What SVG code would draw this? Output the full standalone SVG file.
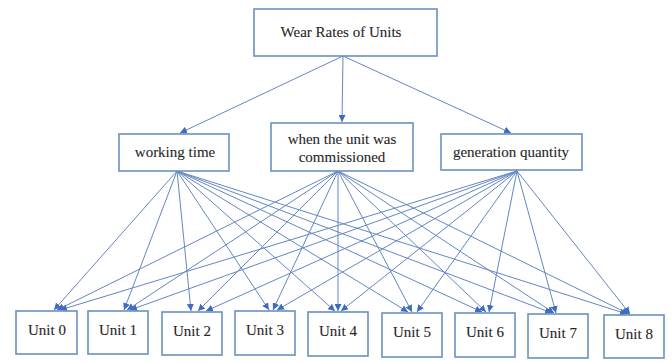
<svg xmlns="http://www.w3.org/2000/svg" width="672" height="362" viewBox="0 0 672 362">
<defs>
<marker id="ah" viewBox="0 0 10 10" refX="10" refY="5" markerWidth="7" markerHeight="7" markerUnits="userSpaceOnUse" orient="auto">
<path d="M0,0 L10,5 L0,10 Z" fill="#3f6cc0"/>
</marker>
<style>
.box{fill:#fff;stroke:#6b8fbd;stroke-width:1.6}
.t{font-size:15px;fill:#262626;stroke:#262626;stroke-width:0.1;text-anchor:middle}
.c{stroke:#6486c2;stroke-width:1;fill:none;marker-end:url(#ah)}
</style>
</defs>
<rect width="672" height="362" fill="#fff"/>
<g id="connectors">
<line class="c" x1="343" y1="56" x2="180" y2="133"/>
<line class="c" x1="343" y1="56" x2="342" y2="122"/>
<line class="c" x1="343" y1="56" x2="511" y2="133"/>
<line class="c" x1="177" y1="171" x2="54" y2="310"/>
<line class="c" x1="177" y1="171" x2="124" y2="310"/>
<line class="c" x1="177" y1="171" x2="191" y2="311"/>
<line class="c" x1="177" y1="171" x2="269" y2="310"/>
<line class="c" x1="177" y1="171" x2="335" y2="311"/>
<line class="c" x1="177" y1="171" x2="408" y2="312"/>
<line class="c" x1="177" y1="171" x2="482" y2="312"/>
<line class="c" x1="177" y1="171" x2="552" y2="313"/>
<line class="c" x1="177" y1="171" x2="627" y2="314"/>
<line class="c" x1="338" y1="171" x2="57" y2="310"/>
<line class="c" x1="338" y1="171" x2="127" y2="310"/>
<line class="c" x1="338" y1="171" x2="198" y2="311"/>
<line class="c" x1="338" y1="171" x2="273" y2="310"/>
<line class="c" x1="338" y1="171" x2="338" y2="311"/>
<line class="c" x1="338" y1="171" x2="412" y2="312"/>
<line class="c" x1="338" y1="171" x2="486" y2="312"/>
<line class="c" x1="338" y1="171" x2="554" y2="313"/>
<line class="c" x1="338" y1="171" x2="629" y2="314"/>
<line class="c" x1="517" y1="171" x2="60" y2="310"/>
<line class="c" x1="517" y1="171" x2="130" y2="310"/>
<line class="c" x1="517" y1="171" x2="206" y2="311"/>
<line class="c" x1="517" y1="171" x2="277" y2="310"/>
<line class="c" x1="517" y1="171" x2="341" y2="311"/>
<line class="c" x1="517" y1="171" x2="417" y2="312"/>
<line class="c" x1="517" y1="171" x2="489" y2="312"/>
<line class="c" x1="517" y1="171" x2="556" y2="313"/>
<line class="c" x1="517" y1="171" x2="630" y2="314"/>
</g>
<g font-family="'Liberation Serif', 'Times New Roman', 'DejaVu Serif', serif">
<g id="wear-rates"><rect class="box" x="254" y="9" width="183" height="47"/><text class="t" x="341" y="37">Wear Rates of Units</text></g>
<g id="working-time"><rect class="box" x="119" y="134" width="110" height="37"/><text class="t" x="175" y="157">working time</text></g>
<g id="commissioned"><rect class="box" x="271" y="123" width="142" height="48"/><text class="t" x="342" y="144">when the unit was</text><text class="t" x="342" y="162">commissioned</text></g>
<g id="generation-quantity"><rect class="box" x="441" y="134" width="141" height="36"/><text class="t" x="511" y="157">generation quantity</text></g>
<g id="unit0"><rect class="box" x="16" y="311" width="61" height="43"/><text class="t" x="47" y="335" font-size="15.5">Unit 0</text></g>
<g id="unit1"><rect class="box" x="88" y="311" width="60" height="43"/><text class="t" x="118" y="335" font-size="15.5">Unit 1</text></g>
<g id="unit2"><rect class="box" x="162" y="312" width="60" height="43"/><text class="t" x="192" y="336" font-size="15.5">Unit 2</text></g>
<g id="unit3"><rect class="box" x="235" y="311" width="60" height="44"/><text class="t" x="265" y="335" font-size="15.5">Unit 3</text></g>
<g id="unit4"><rect class="box" x="308" y="312" width="60" height="44"/><text class="t" x="338" y="336" font-size="15.5">Unit 4</text></g>
<g id="unit5"><rect class="box" x="382" y="313" width="60" height="44"/><text class="t" x="412" y="337" font-size="15.5">Unit 5</text></g>
<g id="unit6"><rect class="box" x="455" y="313" width="60" height="44"/><text class="t" x="485" y="337" font-size="15.5">Unit 6</text></g>
<g id="unit7"><rect class="box" x="528" y="314" width="60" height="44"/><text class="t" x="558" y="338" font-size="15.5">Unit 7</text></g>
<g id="unit8"><rect class="box" x="604" y="315" width="60" height="43"/><text class="t" x="634" y="339" font-size="15.5">Unit 8</text></g>
</g>
</svg>
